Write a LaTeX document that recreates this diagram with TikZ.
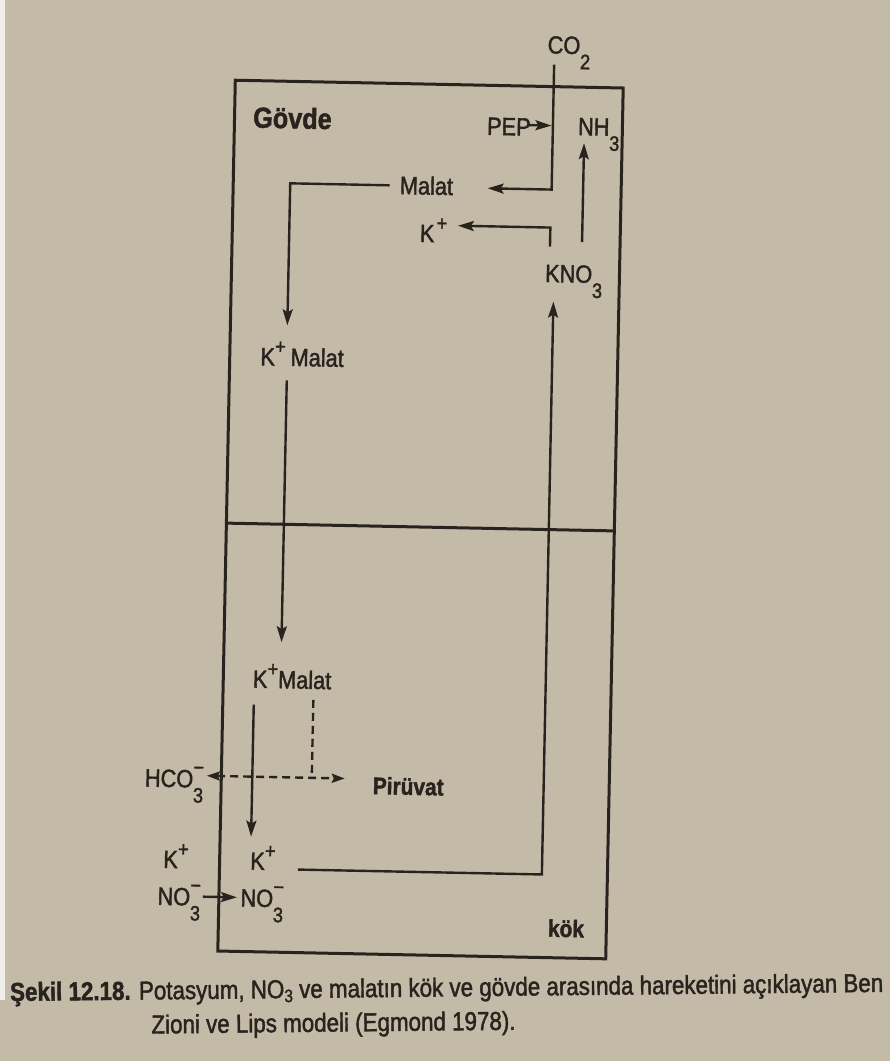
\documentclass[tikz,border=0pt]{standalone}
\usepackage{fontspec}
\setmainfont{Liberation Sans}
\newfontfamily\labfont[FakeStretch=0.87,FakeBold=1.6]{Liberation Sans}
\newfontfamily\capfont[FakeStretch=0.86,FakeBold=1.6]{Liberation Sans}
\usetikzlibrary{arrows.meta}
\definecolor{ink}{RGB}{40,35,30}
\definecolor{bgmain}{RGB}{195,187,167}
\newcommand{\lsub}[1]{\raisebox{-15pt}{\fontsize{21}{21}\selectfont #1}}
\newcommand{\lsup}[1]{\raisebox{12pt}{\fontsize{21}{21}\selectfont #1}}
\newcommand{\lss}[2]{\makebox[0pt][l]{\raisebox{13pt}{\fontsize{21}{21}\selectfont #2}}\raisebox{-15pt}{\fontsize{21}{21}\selectfont #1}}
\begin{document}
\begin{tikzpicture}[x=1pt,y=-1pt,
  lab/.style={inner sep=0pt, anchor=base west, text=ink, font=\labfont\fontsize{25}{25}\selectfont},
  labb/.style={lab, font=\labfont\bfseries\fontsize{24}{24}\selectfont},
  capt/.style={inner sep=0pt, anchor=base west, text=ink, font=\capfont\fontsize{26}{26}\selectfont},
  wire/.style={draw=ink, line width=2.4pt, line join=miter},
  arr/.style={wire, -{Stealth[length=16pt,width=10pt,inset=3pt]}},
  dwire/.style={wire, dash pattern=on 8pt off 5pt},
  darr/.style={dwire, {Stealth[length=13pt,width=9pt,inset=2pt]}-{Stealth[length=13pt,width=9pt,inset=2pt]}},
  frame/.style={draw=ink, line width=3pt}]
\useasboundingbox (0,0) rectangle (890,1061);
\fill[bgmain] (0,0) rectangle (890,1061);
\fill[white!75!bgmain] (0,0) rectangle (5,1000);

\begin{scope}[rotate around={-1.15:(420,520)}, transform shape]
  % frame
  \draw[frame] (226.5,84) rectangle (614.5,955);
  \draw[frame] (226.5,527) -- (614.5,527);

  % labels
  \node[lab, font=\labfont\bfseries\fontsize{29}{29}\selectfont] (gov) at (245,131) {Gövde};
  \node[lab] (co2) at (538,51) {CO\lsub{2}};
  \node[lab] (pep) at (479,133.5) {PEP};
  \node[lab] (nh3) at (570,132) {NH\lsub{3}};
  \node[lab] (malat) at (393,194.5) {Malat};
  \node[lab] (kp) at (414,242) {K\kern2pt\lsup{+}};
  \node[lab] (kno3) at (540,279.5) {KNO\lsub{3}};
  \node[lab] (km1) at (257,368.5) {K\lsup{+}\kern5pt Malat};
  \node[lab] (km2) at (256,691) {K\lsup{+}Malat};
  \node[lab] (hco3) at (150,792) {HCO\lss{3}{−}};
  \node[labb] (piru) at (378,795) {Pirüvat};
  \node[lab] (kL) at (170,873) {K\lsup{+}};
  \node[lab] (noL) at (165,910) {NO\lss{3}{−}};
  \node[lab] (kR) at (257,873) {K\lsup{+}};
  \node[lab] (noR) at (248,910) {NO\lss{3}{−}};
  \node[labb] (kok) at (556,934) {kök};

  % connector coordinates
  \coordinate (co2a) at (545,62);
  \coordinate (co2b) at (545,187);
  \coordinate (mtip) at (481,187);
  \coordinate (pepa) at (520,123);
  \coordinate (pepb) at (543.5,123);
  \coordinate (nha) at (576.5,239);
  \coordinate (nhb) at (576.5,140);
  \coordinate (kna) at (544.5,244);
  \coordinate (knb) at (544.5,225);
  \coordinate (ktip) at (452,225);
  \coordinate (mla) at (383,186);
  \coordinate (mlb) at (283.5,186);
  \coordinate (mtip2) at (283.5,328);
  \coordinate (k1a) at (284,383);
  \coordinate (k1tip) at (284,645);
  \coordinate (k2a) at (257.5,708);
  \coordinate (k2tip) at (257.5,840);
  \coordinate (dva) at (317,702);
  \coordinate (dvb) at (317,780);
  \coordinate (dleft) at (212,780);
  \coordinate (dright) at (350,780);
  \coordinate (noa) at (210.5,901);
  \coordinate (notip) at (244.5,901);
  \coordinate (ra) at (305,872);
  \coordinate (rb) at (549,872);
  \coordinate (rtip) at (549,299);

  % connectors
  \draw[arr] (co2a) -- (co2b) -- (mtip);
  \draw[arr] (pepa) -- (pepb);
  \draw[arr] (nha) -- (nhb);
  \draw[arr] (kna) -- (knb) -- (ktip);
  \draw[arr] (mla) -- (mlb) -- (mtip2);
  \draw[arr] (k1a) -- (k1tip);
  \draw[arr] (k2a) -- (k2tip);
  \draw[dwire] (dva) -- (dvb);
  \draw[darr] (dleft) -- (dright);
  \draw[arr] (noa) -- (notip);
  \draw[arr] (ra) -- (rb) -- (rtip);
\end{scope}

\begin{scope}[rotate around={0.6:(10,1001)}, transform shape]
  \node[capt] (cap1) at (10,1001) {{\bfseries Şekil 12.18.} Potasyum, NO\raisebox{-4pt}{\fontsize{18}{18}\selectfont 3} ve malatın kök ve gövde arasında hareketini açıklayan Ben};
  \node[capt] (cap2) at (151,1035) {Zioni ve Lips modeli (Egmond 1978).};
\end{scope}
\end{tikzpicture}
\end{document}
